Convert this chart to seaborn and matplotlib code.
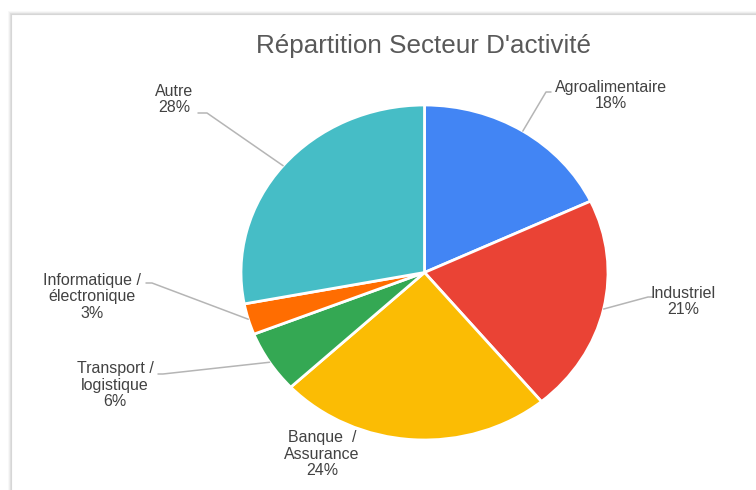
import matplotlib
matplotlib.use("Agg")
import matplotlib.pyplot as plt
from matplotlib.patches import Rectangle
import numpy as np
import seaborn as sns

# Sector breakdown (percent)
sectors = ["Agroalimentaire", "Industriel", "Banque  /\nAssurance",
           "Transport /\nlogistique", "Informatique /\nélectronique", "Autre"]
shares = [18, 21, 24, 6, 3, 28]
slice_colors = ["#4285F4", "#EA4335", "#FBBC04", "#34A853", "#FF6D01", "#46BDC6"]

title = "Répartition Secteur D'activité"

sns.set_theme(style="white")
plt.rcParams["font.family"] = ["Liberation Sans", "DejaVu Sans"]

W, H = 756, 490
fig = plt.figure(figsize=(W / 100, H / 100), dpi=100)
fig.patch.set_facecolor("white")

# Card with a soft shadow on its top and left edges (drawn beneath the axes)
card_x, card_y = 11, 14  # pixels from left / top
for i, a in enumerate([0.05, 0.08, 0.12, 0.20]):
    off = 3 - i
    fig.patches.append(Rectangle(((card_x - off) / W, -0.1), 2.0, 1.1 - (card_y - off) / H,
                                 transform=fig.transFigure, facecolor=(0.5, 0.5, 0.5, a),
                                 edgecolor="none", zorder=-3))
fig.patches.append(Rectangle((card_x / W, -0.1), 2.0, 1.1 - card_y / H,
                             transform=fig.transFigure, facecolor="white",
                             edgecolor="#d6d6d6", linewidth=0.8, zorder=-2))

# Pie area (slightly wider than tall)
cx, cy, rx, ry = 424.5, 272.5, 183.5, 167.5
ax = fig.add_axes([(cx - rx) / W, (H - (cy + ry)) / H, 2 * rx / W, 2 * ry / H])
ax.set_facecolor("none")

wedges, _ = ax.pie(shares, colors=slice_colors, startangle=90, counterclock=False,
                   radius=1.0, wedgeprops=dict(edgecolor="white", linewidth=2))
ax.set_aspect("auto")
ax.set_xlim(-1, 1)
ax.set_ylim(-1, 1)
ax.axis("off")


def to_data(px, py):
    return (px - cx) / rx, (cy - py) / ry


# Label placement: text centre, and the elbow of the leader line (pixels)
layout = {
    "Agroalimentaire": dict(text=(611, 95.5), elbow=[(546, 92), (551, 92)]),
    "Industriel": dict(text=(683, 301.5), elbow=[(648, 297), (653, 297)]),
    "Banque  /\nAssurance": dict(text=(322, 454), elbow=None),
    "Transport /\nlogistique": dict(text=(115, 385), elbow=[(163, 374), (158, 374)]),
    "Informatique /\nélectronique": dict(text=(92, 297), elbow=[(152, 283), (146, 283)]),
    "Autre": dict(text=(174, 99.5), elbow=[(207, 113), (198, 113)]),
}

cum = np.cumsum([0] + shares)
total = float(sum(shares))
for name, val, start in zip(sectors, shares, cum[:-1]):
    mid = (start + val / 2) / total * 2 * np.pi  # clockwise from top
    ex, ey = np.sin(mid), np.cos(mid)
    spec = layout[name]
    if spec["elbow"] is not None:
        pts = [(ex, ey)] + [to_data(*p) for p in spec["elbow"]]
        xs, ys = zip(*pts)
        ax.plot(xs, ys, color="#b5b5b5", linewidth=1.1, clip_on=False, zorder=1)
    tx, ty = to_data(*spec["text"])
    ax.text(tx, ty, f"{name}\n{val}%", ha="center", va="center", fontsize=11.5,
            color="#424242", linespacing=1.15, clip_on=False)

fig.text(423 / W, 1 - 46 / H, title, ha="center", va="center", fontsize=18.7,
         color="#595959")

fig.savefig("out.png", dpi=100, facecolor=fig.get_facecolor())
